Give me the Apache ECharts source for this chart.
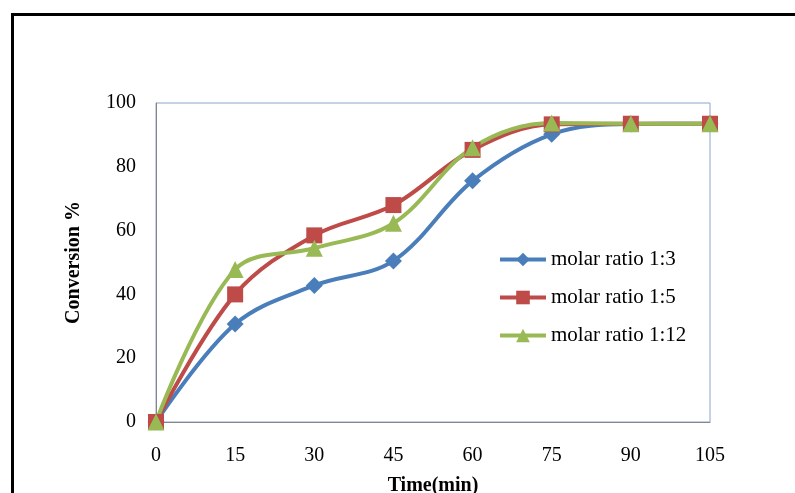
<!DOCTYPE html>
<html>
<head>
<meta charset="utf-8">
<script src="https://cdn.jsdelivr.net/npm/echarts@6/dist/echarts.min.js"></script>
<style>html,body{margin:0;padding:0;background:#fff;}#c{width:795px;height:493px;}</style>
</head>
<body>
<div id="c"></div>
<script>
var times = [0, 15, 30, 45, 60, 75, 90, 105];
var ratio13 = [0, 30.7, 42.8, 50.5, 75.6, 90.2, 93.4, 93.5];
var ratio15 = [0, 40.0, 58.5, 68.0, 85.3, 93.3, 93.5, 93.5];
var ratio112 = [0, 47.8, 54.5, 62.3, 86.0, 93.7, 93.5, 93.5];
var seriesNames = ['molar ratio 1:3', 'molar ratio 1:5', 'molar ratio 1:12'];
var yTicks = [0, 20, 40, 60, 80, 100];

function pairs(vals) { return times.map(function (t, i) { return [t, vals[i]]; }); }
var font = 'Liberation Serif';
var chart = echarts.init(document.getElementById('c'));
chart.setOption({
  animation: false,
  backgroundColor: '#fff',
  graphic: [{
    type: 'rect', left: 10, top: 12, z: 100,
    shape: { width: 820, height: 520 },
    style: { fill: 'none', stroke: '#000', lineWidth: 3 }
  }],
  grid: { left: 156, right: 85, top: 103, bottom: 71, show: true, borderColor: '#8ea6c8', borderWidth: 1,
          outerBoundsMode: 'none', containLabel: false },
  legend: {
    orient: 'vertical', left: 493, top: 244, itemGap: 17, itemWidth: 46, itemHeight: 17,
    data: seriesNames,
    lineStyle: { width: 4 },
    textStyle: { fontFamily: font, fontSize: 21, color: '#000' }
  },
  xAxis: {
    type: 'value', min: 0, max: 105, interval: 15,
    name: 'Time(min)', nameLocation: 'middle', nameGap: 54,
    nameTextStyle: { fontFamily: font, fontSize: 20, fontWeight: 'bold', color: '#000' },
    axisLine: { lineStyle: { color: '#868686', width: 1 } },
    axisTick: { show: false },
    splitLine: { show: false },
    axisLabel: { fontFamily: font, fontSize: 20, color: '#000', margin: 24 }
  },
  yAxis: {
    type: 'value', min: yTicks[0], max: yTicks[yTicks.length - 1], interval: 20,
    name: 'Conversion %', nameLocation: 'middle', nameGap: 72,
    nameTextStyle: { fontFamily: font, fontSize: 20, fontWeight: 'bold', color: '#000' },
    axisLine: { show: true, lineStyle: { color: '#868686', width: 1 } },
    axisTick: { show: false },
    splitLine: { show: false },
    axisLabel: { fontFamily: font, fontSize: 20, color: '#000', margin: 20 }
  },
  series: [
    { name: seriesNames[0], type: 'line', data: pairs(ratio13), smooth: 0.35, symbol: 'diamond', symbolSize: 17,
      color: '#4a7ebb', lineStyle: { width: 4 }, itemStyle: { color: '#4a7ebb' } },
    { name: seriesNames[1], type: 'line', data: pairs(ratio15), smooth: 0.35, symbol: 'rect', symbolSize: 16,
      color: '#be4b48', lineStyle: { width: 4 }, itemStyle: { color: '#be4b48' } },
    { name: seriesNames[2], type: 'line', data: pairs(ratio112), smooth: 0.35, symbol: 'triangle', symbolSize: 17,
      color: '#98b954', lineStyle: { width: 4 }, itemStyle: { color: '#98b954' } }
  ]
});
</script>
</body>
</html>
